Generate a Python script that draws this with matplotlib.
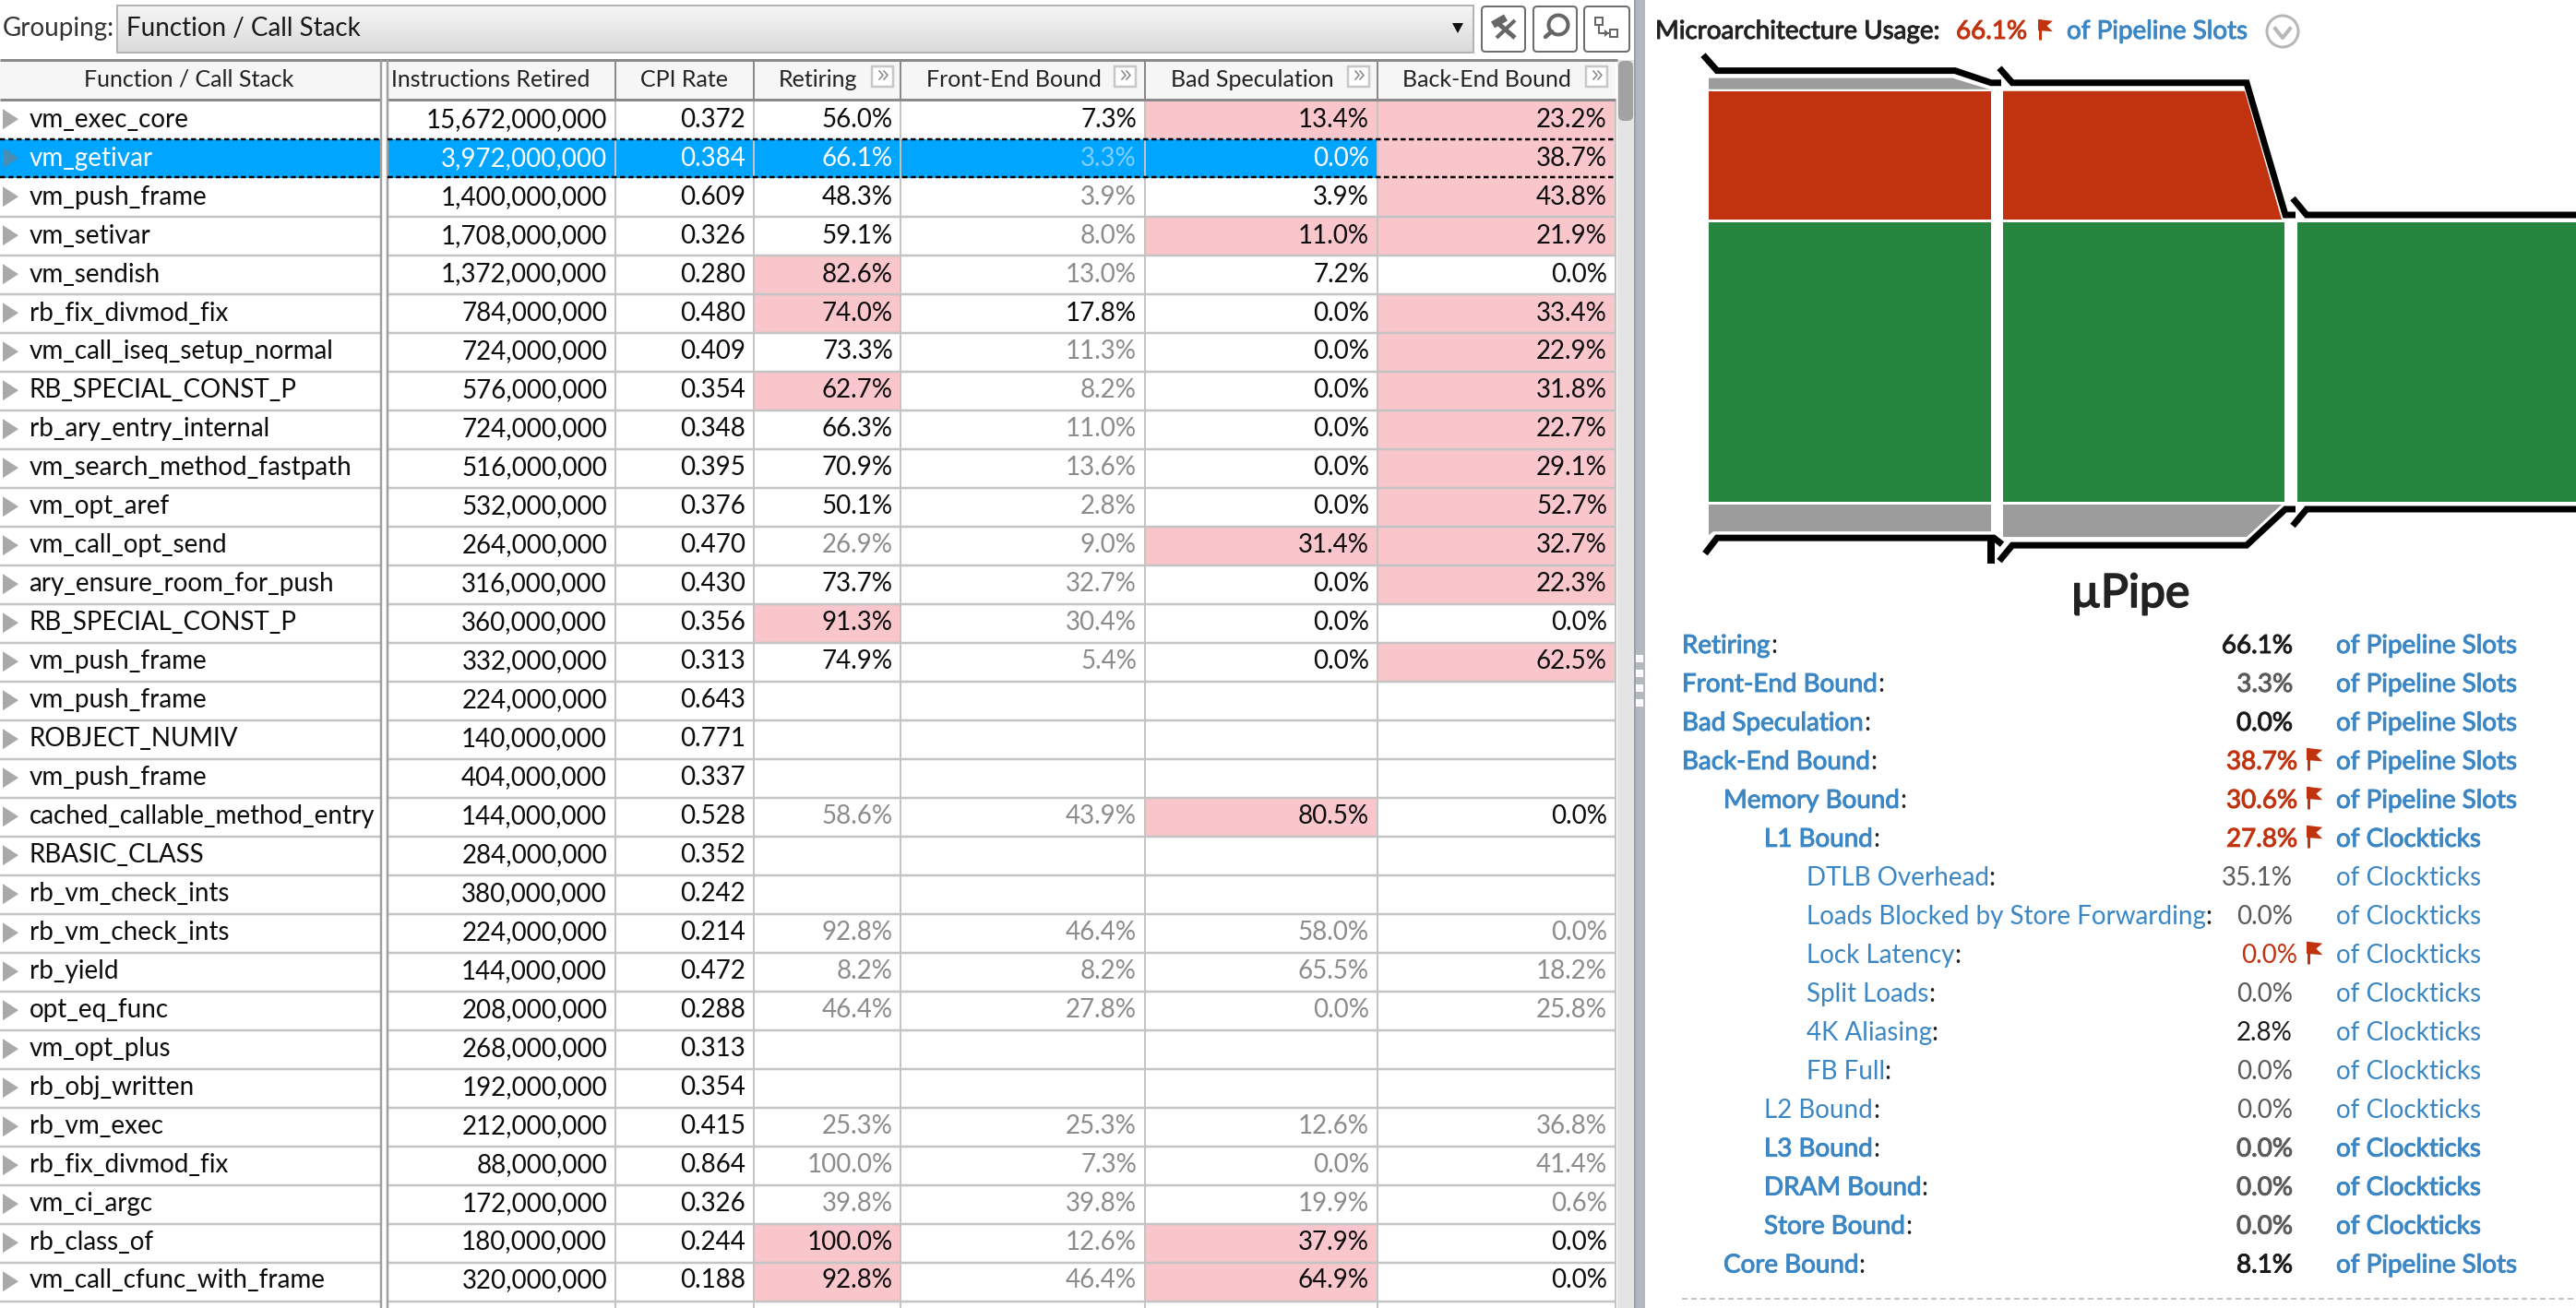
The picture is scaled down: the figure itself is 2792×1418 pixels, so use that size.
import matplotlib
matplotlib.use("Agg")
import matplotlib.pyplot as plt
import matplotlib.patheffects as pe
from matplotlib.patches import Circle, FancyBboxPatch, Polygon, Rectangle
import numpy as np

plt.rcParams["font.family"] = ["Lato", "DejaVu Sans"]

# table data
functions = [
    "vm_exec_core", "vm_getivar", "vm_push_frame", "vm_setivar", "vm_sendish",
    "rb_fix_divmod_fix", "vm_call_iseq_setup_normal", "RB_SPECIAL_CONST_P",
    "rb_ary_entry_internal", "vm_search_method_fastpath", "vm_opt_aref",
    "vm_call_opt_send", "ary_ensure_room_for_push", "RB_SPECIAL_CONST_P",
    "vm_push_frame", "vm_push_frame", "ROBJECT_NUMIV", "vm_push_frame",
    "cached_callable_method_entry", "RBASIC_CLASS", "rb_vm_check_ints",
    "rb_vm_check_ints", "rb_yield", "opt_eq_func", "vm_opt_plus",
    "rb_obj_written", "rb_vm_exec", "rb_fix_divmod_fix", "vm_ci_argc",
    "rb_class_of", "vm_call_cfunc_with_frame",
]
instructions = [
    "15,672,000,000", "3,972,000,000", "1,400,000,000", "1,708,000,000",
    "1,372,000,000", "784,000,000", "724,000,000", "576,000,000", "724,000,000",
    "516,000,000", "532,000,000", "264,000,000", "316,000,000", "360,000,000",
    "332,000,000", "224,000,000", "140,000,000", "404,000,000", "144,000,000",
    "284,000,000", "380,000,000", "224,000,000", "144,000,000", "208,000,000",
    "268,000,000", "192,000,000", "212,000,000", "88,000,000", "172,000,000",
    "180,000,000", "320,000,000",
]
cpi_rate = [
    "0.372", "0.384", "0.609", "0.326", "0.280", "0.480", "0.409", "0.354",
    "0.348", "0.395", "0.376", "0.470", "0.430", "0.356", "0.313", "0.643",
    "0.771", "0.337", "0.528", "0.352", "0.242", "0.214", "0.472", "0.288",
    "0.313", "0.354", "0.415", "0.864", "0.326", "0.244", "0.188",
]
retiring = [
    "56.0%", "66.1%", "48.3%", "59.1%", "82.6%", "74.0%", "73.3%", "62.7%",
    "66.3%", "70.9%", "50.1%", "26.9%", "73.7%", "91.3%", "74.9%", "", "", "",
    "58.6%", "", "", "92.8%", "8.2%", "46.4%", "", "", "25.3%", "100.0%",
    "39.8%", "100.0%", "92.8%",
]
front_end = [
    "7.3%", "3.3%", "3.9%", "8.0%", "13.0%", "17.8%", "11.3%", "8.2%", "11.0%",
    "13.6%", "2.8%", "9.0%", "32.7%", "30.4%", "5.4%", "", "", "", "43.9%", "",
    "", "46.4%", "8.2%", "27.8%", "", "", "25.3%", "7.3%", "39.8%", "12.6%",
    "46.4%",
]
bad_spec = [
    "13.4%", "0.0%", "3.9%", "11.0%", "7.2%", "0.0%", "0.0%", "0.0%", "0.0%",
    "0.0%", "0.0%", "31.4%", "0.0%", "0.0%", "0.0%", "", "", "", "80.5%", "",
    "", "58.0%", "65.5%", "0.0%", "", "", "12.6%", "0.0%", "19.9%", "37.9%",
    "64.9%",
]
back_end = [
    "23.2%", "38.7%", "43.8%", "21.9%", "0.0%", "33.4%", "22.9%", "31.8%",
    "22.7%", "29.1%", "52.7%", "32.7%", "22.3%", "0.0%", "62.5%", "", "", "",
    "0.0%", "", "", "0.0%", "18.2%", "25.8%", "", "", "36.8%", "41.4%", "0.6%",
    "0.0%", "0.0%",
]
# rows flagged pink / greyed out, per metric column
retiring_pink = [4, 5, 7, 13, 29, 30]
front_end_pink = []
bad_spec_pink = [0, 3, 11, 18, 29, 30]
back_end_pink = [0, 1, 2, 3, 5, 6, 7, 8, 9, 10, 11, 12, 14]
retiring_dim = [11, 18, 21, 22, 23, 26, 27, 28]
front_end_dim = [1, 2, 3, 4, 6, 7, 8, 9, 10, 11, 12, 13, 14, 18, 21, 22, 23, 26, 27, 28, 29, 30]
bad_spec_dim = [21, 22, 23, 26, 27, 28]
back_end_dim = [21, 22, 23, 26, 27, 28]
selected_row = 1

# summary list
metric_names = [
    "Retiring", "Front-End Bound", "Bad Speculation", "Back-End Bound",
    "Memory Bound", "L1 Bound", "DTLB Overhead",
    "Loads Blocked by Store Forwarding", "Lock Latency", "Split Loads",
    "4K Aliasing", "FB Full", "L2 Bound", "L3 Bound", "DRAM Bound",
    "Store Bound", "Core Bound",
]
metric_values = [66.1, 3.3, 0.0, 38.7, 30.6, 27.8, 35.1, 0.0, 0.0, 0.0, 2.8, 0.0, 0.0, 0.0, 0.0, 0.0, 8.1]
metric_units = ["of Pipeline Slots"] * 5 + ["of Clockticks"] * 11 + ["of Pipeline Slots"]
metric_levels = [0, 0, 0, 0, 1, 2, 3, 3, 3, 3, 3, 3, 2, 2, 2, 2, 1]
metric_strong = [0, 1, 2, 3, 4, 5, 13, 14, 15, 16]
metric_flagged = [3, 4, 5, 8]
metric_dark = [0, 2, 10, 16]

# pipe diagram heights, in percent of pipeline slots
pipe_front_end = 3.3
pipe_memory = 30.6
pipe_retiring = 66.1
pipe_core = 8.1

RED = "#c1330f"
GREEN = "#26853f"
GREY = "#9c9c9c"
BLUE = "#3b86c4"
SELECT = "#00a5ff"
PINK = "#f8c6cb"
LINE = "#c4c4c4"
HEADLINE = "#8a8a8a"
DIM = "#8c8c8c"
TEXT = "#0c0c0c"
FS = 20
HEAD_FS = 18


def px(n):
    return n * 0.72


fig = plt.figure(figsize=(27.92, 14.18), dpi=100, facecolor="white")
ax = fig.add_axes([0, 0, 1, 1])
ax.set_xlim(0, 2792)
ax.set_ylim(1418, 0)
ax.axis("off")


def rect(x0, y0, x1, y1, color, z=1):
    ax.add_patch(Rectangle((x0, y0), x1 - x0, y1 - y0, facecolor=color, edgecolor="none", zorder=z))


def hline(y, x0, x1, color=LINE, w=2.5, z=2, **kw):
    ax.plot([x0, x1], [y, y], color=color, lw=px(w), zorder=z, solid_capstyle="butt", **kw)


def vline(x, y0, y1, color=LINE, w=2, z=2):
    ax.plot([x, x], [y0, y1], color=color, lw=px(w), zorder=z, solid_capstyle="butt")


def flag(x, y, h=24):
    # little pennant next to flagged values
    w = h * 0.72
    vline(x + 1.5, y, y + h, RED, 3, 5)
    ax.add_patch(Polygon([(x, y), (x + w, y + h * 0.08), (x + w * 0.6, y + h * 0.32),
                          (x + w, y + h * 0.6), (x, y + h * 0.55)],
                         facecolor=RED, edgecolor="none", zorder=5))


def heavy(color, w=0.7):
    # Lato Medium is not installed, a thin stroke gets close to it
    return [pe.withStroke(linewidth=w, foreground=color)]


# toolbar
ax.text(3, 39, "Grouping:", fontsize=FS, color="#333333", zorder=5)
gradient = np.linspace(0, 1, 64).reshape(-1, 1)
ax.imshow(gradient, extent=[127, 1597, 57, 6], cmap=matplotlib.colors.LinearSegmentedColormap.from_list(
    "box", ["#f6f6f6", "#dadada"]), aspect="auto", zorder=1, origin="upper")
ax.set_xlim(0, 2792)
ax.set_ylim(1418, 0)
ax.add_patch(Rectangle((127, 6), 1470, 51, fill=False, edgecolor="#b4b4b4", lw=px(2), zorder=2))
ax.text(137, 39, "Function / Call Stack", fontsize=FS, color="#1a1a1a", zorder=5)
ax.add_patch(Polygon([(1574, 25), (1586, 25), (1580, 36)], facecolor="#111111", edgecolor="none", zorder=5))
for x0, x1 in [(1606, 1653), (1662, 1709), (1717, 1766)]:
    ax.add_patch(FancyBboxPatch((x0 + 3, 10), x1 - x0 - 6, 43, boxstyle="round,pad=3,rounding_size=4",
                                facecolor="white", edgecolor="#6e6e6e", lw=px(2), zorder=2))
# hammer
ax.plot([1621, 1642], [23, 41], color="#666666", lw=px(5), zorder=3, solid_capstyle="butt")
ax.plot([1642, 1622], [22, 41], color="#666666", lw=px(4), zorder=3, solid_capstyle="butt")
ax.plot([1618, 1632], [27, 19], color="#666666", lw=px(8), zorder=3, solid_capstyle="butt")
# search
ax.add_patch(Circle((1689, 27), 10.5, fill=False, edgecolor="#666666", lw=px(4), zorder=3))
ax.plot([1682, 1675], [34, 40], color="#666666", lw=px(4.5), zorder=3, solid_capstyle="round")
# call tree
ax.add_patch(Rectangle((1729, 19), 8, 8, fill=False, edgecolor="#666666", lw=px(2), zorder=3))
ax.add_patch(Rectangle((1745, 32), 8, 8, fill=False, edgecolor="#666666", lw=px(2), zorder=3))
ax.plot([1733, 1733, 1743], [27, 36, 36], color="#666666", lw=px(2), zorder=3)
ax.add_patch(Polygon([(1739, 32), (1744, 36), (1739, 40)], facecolor="#666666", edgecolor="none", zorder=3))

# table geometry
row_h = 42
row_top = 108.7
text_pitch = 41.96
table_top = 65
col_edges = [420, 667, 817, 976, 1241, 1493, 1751]
right_edges = [658, 808, 968, 1232, 1484, 1742]
header_names = ["Instructions Retired", "CPI Rate", "Retiring", "Front-End Bound", "Bad Speculation", "Back-End Bound"]
header_x = [532, 742, 887, 1099, 1357, 1611]
columns = [instructions, cpi_rate, retiring, front_end, bad_spec, back_end]
pinks = [[], [], retiring_pink, front_end_pink, bad_spec_pink, back_end_pink]
dims = [[], [], retiring_dim, front_end_dim, bad_spec_dim, back_end_dim]
n_lines = int((1418 - row_top) // row_h) + 1

# header
rect(0, table_top, 413, row_top, "#f6f6f6")
rect(420, table_top, 1751, row_top, "#f6f6f6")
hline(table_top, 0, 1753, HEADLINE, 3, 4)
hline(row_top - 1, 0, 413, HEADLINE, 3, 4)
hline(row_top - 1, 420, 1751, HEADLINE, 3, 4)
for x in col_edges[1:-1]:
    vline(x, table_top, row_top, HEADLINE, 2, 4)
ax.text(205, 94, "Function / Call Stack", fontsize=HEAD_FS, color="#222222", ha="center", zorder=5)
for label, x in zip(header_names, header_x):
    ax.text(x, 94, label, fontsize=HEAD_FS, color="#222222", ha="center", zorder=5)
for x in [945, 1208, 1461, 1719]:
    ax.add_patch(Rectangle((x, 72), 23, 22, facecolor="white", edgecolor="#c8c8c8", lw=px(2.5), zorder=4))
    for dx in (8, 13):
        ax.plot([x + dx, x + dx + 4, x + dx], [77, 81.5, 86], color="#8a8a8a", lw=px(1.6), zorder=5)

# selected row and pink cells sit below the grid lines
sel_top = row_top + selected_row * row_h
rect(0, sel_top, 1493, sel_top + row_h, SELECT)
for c, rows in enumerate(pinks):
    for r in rows:
        rect(col_edges[c], row_top + r * row_h, col_edges[c + 1], row_top + (r + 1) * row_h, PINK)

for i in range(1, n_lines):
    y = row_top + i * row_h
    if i not in (selected_row, selected_row + 1):
        hline(y, 0, 413)
        hline(y, 420, 1751)
for x in col_edges[1:]:
    vline(x, row_top, 1418)
vline(413, table_top, 1418, "#a0a0a0", 2.5, 4)
vline(420, table_top, 1418, "#a0a0a0", 2.5, 4)
rect(413.5, table_top, 419.5, 1418, "white", 3)

# dashed outline of the selected row
for y in (sel_top, sel_top + row_h - 1):
    ax.plot([0, 413], [y, y], color="black", lw=px(2.5), ls=(0, (2.2, 1.4)), zorder=6)
    ax.plot([420, 1751], [y, y], color="black", lw=px(2.5), ls=(0, (2.2, 1.4)), zorder=6)

# rows
for r, name in enumerate(functions):
    base = row_top + r * text_pitch + 29
    mid = row_top + r * row_h + 20.5
    tri = "#4a8db5" if r == selected_row else "#a9a9a9"
    ax.add_patch(Polygon([(3, mid - 11), (20, mid), (3, mid + 11)], facecolor=tri, edgecolor="none", zorder=5))
    ax.text(31.5, base, name, fontsize=FS, zorder=5, color="white" if r == selected_row else TEXT)
    for c, col in enumerate(columns):
        color = DIM if r in dims[c] else TEXT
        if r == selected_row and c < 5:
            color = "#7fd0ff" if r in dims[c] else "white"
        ax.text(right_edges[c], base, col[r], fontsize=FS, color=color, ha="right", zorder=5)

# scrollbar and splitter
rect(1753, table_top, 1771, 1418, "#e4e4e4", 3)
ax.add_patch(FancyBboxPatch((1755, table_top + 2), 14, 63, boxstyle="round,pad=1,rounding_size=6",
                            facecolor="#a2a2a2", edgecolor="none", zorder=4))
rect(1771, 0, 1783, 1418, "#b2b7c0", 4)
rect(1771, 0, 1773, 1418, "#9aa0aa", 4)
for y0 in [710, 726, 742, 758]:
    rect(1773, y0, 1781, y0 + 8, "white", 5)

# right panel title
ax.text(1794, 42, "Microarchitecture Usage:", fontsize=FS, color="#222222", zorder=5, path_effects=heavy("#222222"))
ax.text(2120, 42, "66.1%", fontsize=FS, color=RED, zorder=5, path_effects=heavy(RED))
flag(2209, 21, 22)
ax.text(2240, 42, "of Pipeline Slots", fontsize=FS, color=BLUE, zorder=5, path_effects=heavy(BLUE))
ax.add_patch(Circle((2474, 34), 17, fill=False, edgecolor="#b8b8b8", lw=px(3), zorder=5))
ax.plot([2466, 2474, 2482], [31, 41, 31], color="#b8b8b8", lw=px(4), zorder=5)

# pipe: band heights come from the percentages
scale = 303 / pipe_retiring
green_top = 241
green_bot = green_top + pipe_retiring * scale
red_top = green_top - 2 - pipe_memory * scale
grey_top = red_top + 1 - pipe_front_end * scale
grey_bot = green_bot + 3 + pipe_core * scale

stage_x = [(1852, 2158), (2171, 2476), (2490, 2792)]
for x0, x1 in stage_x:
    rect(x0, green_top, x1, green_bot, GREEN)
rect(stage_x[0][0], red_top, stage_x[0][1], green_top - 3, RED)
ax.add_patch(Polygon([(2171, red_top), (2433, red_top), (2473, green_top - 3), (2171, green_top - 3)],
                     facecolor=RED, edgecolor="none", zorder=1))
ax.add_patch(Polygon([(1852, grey_top), (2116, grey_top), (2156, red_top - 2), (1852, red_top - 2)],
                     facecolor=GREY, edgecolor="none", zorder=1))
ax.add_patch(Polygon([(1852, green_bot + 3), (2158, green_bot + 3), (2158, grey_bot - 8), (1857, grey_bot - 8), (1852, grey_bot - 4)],
                     facecolor=GREY, edgecolor="none", zorder=1))
ax.add_patch(Polygon([(2171, green_bot + 3), (2473, green_bot + 3), (2435, grey_bot - 2), (2171, grey_bot - 2)],
                     facecolor=GREY, edgecolor="none", zorder=1))

pipe_lw = px(7)
top_edge = red_top - 9
low_edge = green_bot + 8
outline = dict(color="black", lw=pipe_lw, zorder=6, solid_joinstyle="miter", solid_capstyle="butt")
ax.plot([1846, 1861, 2119, 2158, 2169], [grey_top - 25, grey_top - 8, grey_top - 8, top_edge, top_edge], **outline)
ax.plot([2167, 2181, 2435, 2477, 2488], [top_edge - 16, top_edge, top_edge, green_top - 8, green_top - 8], **outline)
ax.plot([2485, 2500, 2792], [green_top - 26, green_top - 8, green_top - 8], **outline)
ax.plot([1848, 1861, 2161, 2170], [grey_bot + 16, grey_bot - 1, grey_bot - 1, grey_bot + 6], **outline)
ax.plot([2158, 2158], [grey_bot, grey_bot + 27], color="black", lw=px(8), zorder=6, solid_capstyle="butt")
ax.plot([2167, 2181, 2435, 2477, 2488], [grey_bot + 24, grey_bot + 7, grey_bot + 7, low_edge, low_edge], **outline)
ax.plot([2485, 2500, 2792], [low_edge + 18, low_edge, low_edge], **outline)

ax.text(2309, 658, "\u00b5Pipe", fontsize=36, color="#222222", ha="center", zorder=5, path_effects=heavy("#222222", 1.3))

# metric list
renderer = fig.canvas.get_renderer()
level_x = [1823, 1868, 1912, 1957.5]
for i, name in enumerate(metric_names):
    base = 708 + 41.97 * i
    strong = i in metric_strong
    effects = heavy(BLUE) if strong else None
    t = ax.text(level_x[metric_levels[i]], base, name, fontsize=FS, color=BLUE, zorder=5, path_effects=effects)
    end = t.get_window_extent(renderer).x1
    ax.text(end, base, ":", fontsize=FS, color="#222222", zorder=5)
    value = f"{metric_values[i]:.1f}%"
    if i in metric_flagged:
        ax.text(2490, base, value, fontsize=FS, color=RED, ha="right", zorder=5,
                path_effects=heavy(RED) if strong else None)
        flag(2500, base - 23, 24)
    else:
        color = "#1a1a1a" if i in metric_dark else "#5a5a5a"
        ax.text(2485, base, value, fontsize=FS, color=color, ha="right", zorder=5,
                path_effects=heavy(color) if strong else None)
    ax.text(2532, base, metric_units[i], fontsize=FS, color=BLUE, zorder=5, path_effects=effects)

ax.plot([1823, 2792], [1408, 1408], color="#c4c4c4", lw=px(2), ls=(0, (3, 2)), zorder=5)

fig.savefig("out.png", dpi=100, facecolor="white")
